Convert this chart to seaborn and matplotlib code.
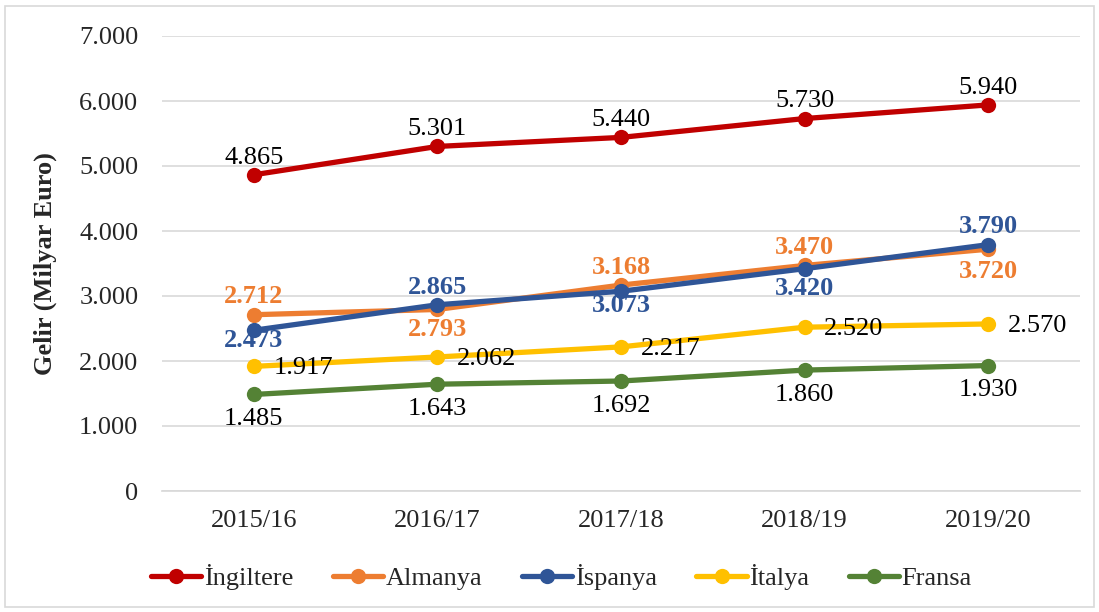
import matplotlib
matplotlib.use("Agg")
import matplotlib.pyplot as plt
import seaborn as sns
import pandas as pd
from matplotlib.patches import Rectangle

years = ["2015/16", "2016/17", "2017/18", "2018/19", "2019/20"]
ingiltere = [4865, 5301, 5440, 5730, 5940]
almanya = [2712, 2793, 3168, 3470, 3720]
ispanya = [2473, 2865, 3073, 3420, 3790]
italya = [1917, 2062, 2217, 2520, 2570]
fransa = [1485, 1643, 1692, 1860, 1930]
series_names = ["İngiltere", "Almanya", "İspanya", "İtalya", "Fransa"]
series_values = [ingiltere, almanya, ispanya, italya, fransa]
colors = ["#C00000", "#ED7D31", "#2F5597", "#FFC000", "#548235"]
yticks = [0, 1000, 2000, 3000, 4000, 5000, 6000, 7000]

# label placement per series/point: 'a' above, 'b' below, 'r' right
placements = [
    ["a"] * 5,
    ["a", "b", "a", "a", "b"],
    ["b", "a", "b", "b", "a"],
    ["r"] * 5,
    ["b"] * 5,
]
below_gaps = [
    [3] * 5,
    [0, 6, 0, 0, 8],
    [-1, 0, 2, 6, 0],
    [0] * 5,
    [10] * 5,
]
bold = [False, True, True, False, False]
label_colors = ["black", "#ED7D31", "#2F5597", "black", "black"]

rows = []
for name, vals in zip(series_names, series_values):
    for i, (y, v) in enumerate(zip(years, vals)):
        rows.append({"Yıl": y, "x": i, "Gelir": v, "Ülke": name})
df = pd.DataFrame(rows)

sns.set_theme(style="white")
plt.rcParams["font.family"] = ["Liberation Serif", "DejaVu Serif"]

FS = 19
fig = plt.figure(figsize=(10.99, 6.12), dpi=100)
ax = fig.add_axes([162 / 1099, 1 - 491 / 612, 918 / 1099, 455 / 612])

sns.lineplot(data=df, x="x", y="Gelir", hue="Ülke", hue_order=series_names,
             palette=colors, marker="o", markersize=11, markeredgewidth=0,
             linewidth=3.8, ax=ax, legend=True)

def fmt(v):
    return f"{v:,}".replace(",", ".")

for si, vals in enumerate(series_values):
    for i, v in enumerate(vals):
        p = placements[si][i]
        if p == "a":
            off, ha, va = (0, 4.5), "center", "bottom"
        elif p == "b":
            off, ha, va = (0, -below_gaps[si][i]), "center", "top"
        else:
            off, ha, va = (14, -1.5), "left", "center"
        ax.annotate(fmt(v), (i, v), xytext=off, textcoords="offset points",
                    ha=ha, va=va, fontsize=FS, color=label_colors[si],
                    fontweight="bold" if bold[si] else "normal")

ax.set_xlim(-0.5, 4.5)
ax.set_ylim(0, 7000)
ax.set_xticks(range(len(years)))
ax.set_xticklabels(years, fontsize=FS)
ax.set_yticks(yticks)
ax.set_yticklabels([fmt(t) for t in yticks], fontsize=FS)
ax.tick_params(axis="y", length=0, pad=17)
ax.tick_params(axis="x", length=0, pad=14)
ax.grid(axis="y", color="#D9D9D9", linewidth=1.2)
ax.set_axisbelow(True)
for s in ["top", "right", "left"]:
    ax.spines[s].set_visible(False)
ax.spines["bottom"].set_color("#D9D9D9")
ax.set_xlabel("")
ax.set_ylabel("Gelir (Milyar Euro)", fontsize=FS, fontweight="bold")
ax.yaxis.set_label_coords(-0.114, 0.5)

handles, labels = ax.get_legend_handles_labels()
ax.legend(handles, labels, loc="center", bbox_to_anchor=(0.511, 1 - 577 / 612),
          bbox_transform=fig.transFigure, ncol=5, frameon=False, fontsize=FS,
          handlelength=1.9, columnspacing=1.5, handletextpad=0.1)

fig.patches.append(Rectangle((5 / 1099, 5 / 612), 1089 / 1099, 601 / 612,
                             transform=fig.transFigure, fill=False,
                             edgecolor="#D9D9D9", linewidth=1.2))

fig.savefig("out.png", dpi=100)
